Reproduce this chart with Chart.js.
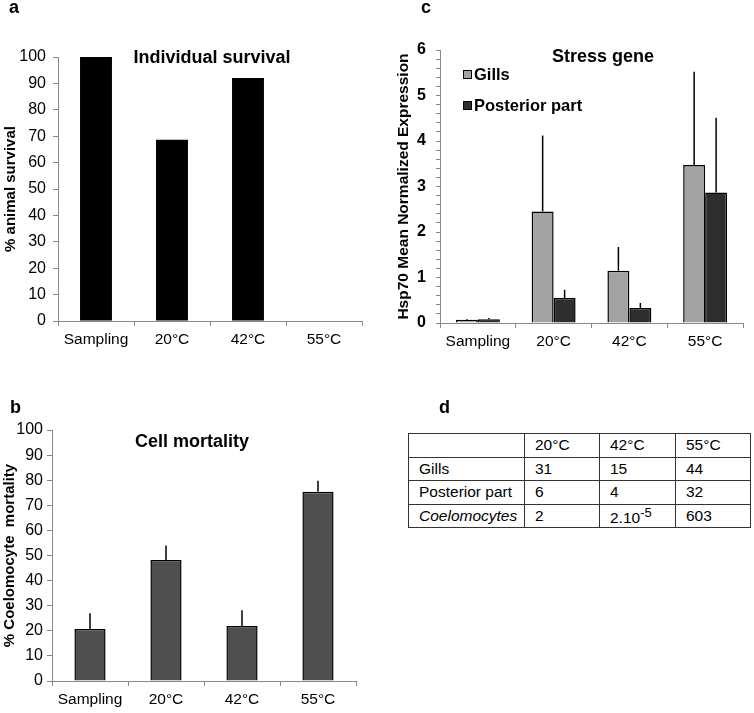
<!DOCTYPE html>
<html>
<head>
<meta charset="utf-8">
<script src="https://cdn.jsdelivr.net/npm/chart.js@4.4.0/dist/chart.umd.min.js"></script>
<style>
  body { margin: 0; background: #fff; font-family: "Liberation Sans", Arial, sans-serif; }
  #page { position: relative; width: 754px; height: 713px; overflow: hidden; }
  canvas { position: absolute; }
  .lbl { position: absolute; font-weight: bold; font-size: 18px; line-height: 18px; }
  #tbl { position: absolute; left: 408px; top: 433px; border-collapse: collapse; table-layout: fixed; font-size: 15.5px; }
  #tbl td { border: 1.5px solid #333; height: 22.5px; padding: 0 0 0 10px; white-space: nowrap; }
</style>
</head>
<body>
<div id="page">
  <canvas id="chartA" width="370" height="360" style="left:0;top:0"></canvas>
  <canvas id="chartB" width="370" height="343" style="left:0;top:370px"></canvas>
  <canvas id="chartC" width="384" height="360" style="left:370px;top:0"></canvas>
  <div class="lbl" style="left:9px;top:-2px">a</div>
  <div class="lbl" style="left:421px;top:-2px">c</div>
  <div class="lbl" style="left:10px;top:398px">b</div>
  <div class="lbl" style="left:439px;top:398px">d</div>
  <table id="tbl">
    <colgroup><col style="width:116px"><col style="width:75px"><col style="width:76px"><col style="width:75px"></colgroup>
    <tbody id="tbody"></tbody>
  </table>
</div>
<script>
// data
const categories = ["Sampling", "20°C", "42°C", "55°C"];
const survival = [100, 68.7, 92, 0];
const mortality = [20.7, 48.2, 21.9, 75.4];
const mortalityErr = [6.3, 5.8, 6.3, 4.4];
const gills = [0.07, 2.45, 1.15, 3.47];
const gillsErr = [0.02, 1.67, 0.52, 2.05];
const posterior = [0.08, 0.55, 0.33, 2.87];
const posteriorErr = [0.03, 0.18, 0.11, 1.64];
const tableHead = ["", "20°C", "42°C", "55°C"];
const tableRows = [
  ["Gills", "31", "15", "44"],
  ["Posterior part", "6", "4", "32"],
  ["<i>Coelomocytes</i>", "2", "2.10<sup>-5</sup>", "603"]
];

const FONT = "'Liberation Sans', Arial, sans-serif";
Chart.defaults.font.family = FONT;
Chart.defaults.color = "#000";
const AXIS = "#888";

// table d
const tbody = document.getElementById("tbody");
[tableHead].concat(tableRows).forEach(function (row) {
  const tr = document.createElement("tr");
  row.forEach(function (cell) {
    const td = document.createElement("td");
    td.innerHTML = cell;
    tr.appendChild(td);
  });
  tbody.appendChild(tr);
});

// upper error bars, drawn from the bar elements
const errorBars = {
  id: "errorBars",
  afterDatasetsDraw(chart) {
    const ctx = chart.ctx;
    const y = chart.scales.y;
    chart.data.datasets.forEach(function (ds, i) {
      if (!ds.errors) return;
      chart.getDatasetMeta(i).data.forEach(function (bar, j) {
        const top = y.getPixelForValue(ds.data[j] + ds.errors[j]);
        ctx.save();
        ctx.strokeStyle = "#000";
        ctx.lineWidth = 1.5;
        ctx.beginPath();
        ctx.moveTo(bar.x, bar.y);
        ctx.lineTo(bar.x, top);
        ctx.stroke();
        ctx.restore();
      });
    });
  }
};

// title inside the plot + optional stacked legend
const panelText = {
  id: "panelText",
  afterDraw(chart, args, opts) {
    const ctx = chart.ctx;
    const area = chart.chartArea;
    ctx.save();
    ctx.fillStyle = "#000";
    ctx.font = "bold 18px " + FONT;
    ctx.textAlign = "center";
    ctx.textBaseline = "middle";
    ctx.fillText(opts.text, (area.left + area.right) / 2 + opts.dx, area.top + opts.dy);
    if (opts.legend) {
      ctx.font = "bold 16.5px " + FONT;
      ctx.textAlign = "left";
      chart.data.datasets.forEach(function (ds, i) {
        const x = area.left + 23;
        const y = area.top + 20 + i * 31;
        ctx.fillStyle = ds.backgroundColor;
        ctx.fillRect(x, y, 9, 9);
        ctx.strokeStyle = "#000";
        ctx.lineWidth = 1;
        ctx.strokeRect(x + 0.5, y + 0.5, 8, 8);
        ctx.fillStyle = "#000";
        ctx.fillText(ds.label, x + 11, y + 5);
      });
    }
    ctx.restore();
  }
};

function xAxis(height) {
  return {
    grid: { drawOnChartArea: false, drawTicks: true, tickLength: 5, color: AXIS, offset: true },
    border: { color: AXIS, width: 1 },
    ticks: { font: { size: 15.5 }, padding: 4 },
    afterFit: function (s) { s.height = height; }
  };
}

function yAxis(o) {
  return {
    min: 0,
    max: o.max,
    grid: { drawOnChartArea: false, drawTicks: true, tickLength: o.tickLength, color: AXIS },
    border: { color: AXIS, width: 1 },
    ticks: {
      stepSize: o.step,
      autoSkip: false,
      padding: o.tickPad,
      font: { size: 16, weight: o.boldTicks ? "bold" : "normal" },
      callback: o.callback
    },
    title: {
      display: true,
      text: o.title,
      font: { size: o.titleSize, weight: "bold" },
      padding: { top: o.titlePad, bottom: 0 }
    },
    afterFit: function (s) { s.width = o.width; }
  };
}

function baseOptions(pad, x, y, text) {
  return {
    responsive: false,
    animation: false,
    layout: { padding: pad },
    plugins: { legend: { display: false }, tooltip: { enabled: false }, panelText: text },
    scales: { x: x, y: y }
  };
}

// a - Individual survival
new Chart(document.getElementById("chartA"), {
  type: "bar",
  data: {
    labels: categories,
    datasets: [{
      label: "survival",
      data: survival,
      backgroundColor: "#000",
      borderWidth: 0,
      barPercentage: 1,
      categoryPercentage: 0.42
    }]
  },
  options: baseOptions(
    { left: 0, top: 57, right: 8, bottom: 0 },
    xAxis(39),
    yAxis({ max: 100, step: 10, width: 58, tickLength: 5, tickPad: 7, title: "% animal survival", titleSize: 15, titlePad: 2 }),
    { text: "Individual survival", dx: 2, dy: 1 }
  ),
  plugins: [panelText]
});

// b - Cell mortality
new Chart(document.getElementById("chartB"), {
  type: "bar",
  data: {
    labels: categories,
    datasets: [{
      label: "mortality",
      data: mortality,
      errors: mortalityErr,
      backgroundColor: "#4f4f4f",
      borderColor: "#000",
      borderWidth: 1.5,
      barPercentage: 1,
      categoryPercentage: 0.41
    }]
  },
  options: baseOptions(
    { left: 0, top: 60, right: 14, bottom: 0 },
    xAxis(32),
    yAxis({ max: 100, step: 10, width: 52, tickLength: 5, tickPad: 4, title: "% Coelomocyte  mortality", titleSize: 15, titlePad: 1 }),
    { text: "Cell mortality", dx: -12, dy: 12 }
  ),
  plugins: [errorBars, panelText]
});

// c - Stress gene
new Chart(document.getElementById("chartC"), {
  type: "bar",
  data: {
    labels: categories,
    datasets: [{
      label: "Gills",
      data: gills,
      errors: gillsErr,
      backgroundColor: "#a3a3a3",
      borderColor: "#000",
      borderWidth: 1.5,
      barPercentage: 1,
      categoryPercentage: 0.58
    }, {
      label: "Posterior part",
      data: posterior,
      errors: posteriorErr,
      backgroundColor: "#2e2e2e",
      borderColor: "#000",
      borderWidth: 1.5,
      barPercentage: 1,
      categoryPercentage: 0.58
    }]
  },
  options: baseOptions(
    { left: 0, top: 50, right: 11, bottom: 0 },
    xAxis(37),
    yAxis({
      max: 6, step: 0.2, width: 70, tickLength: 4, tickPad: 10, boldTicks: true,
      title: "Hsp70 Mean Normalized Expression", titleSize: 15.5, titlePad: 24,
      callback: function (v) { return Math.abs(v - Math.round(v)) < 1e-6 ? Math.round(v) : ""; }
    }),
    { text: "Stress gene", dx: 11.5, dy: 7, legend: true }
  ),
  plugins: [errorBars, panelText]
});
</script>
</body>
</html>
